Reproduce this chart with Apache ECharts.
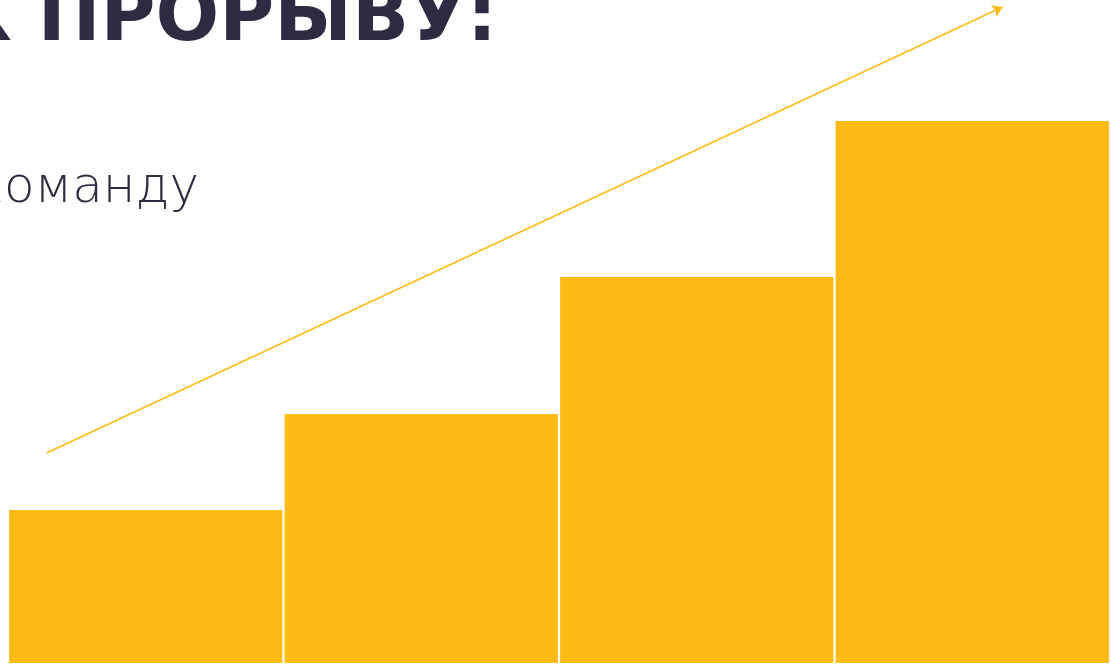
<!DOCTYPE html>
<html><head><meta charset="utf-8">
<script src="https://cdn.jsdelivr.net/npm/echarts@6/dist/echarts.min.js"></script>
<style>html,body{margin:0;padding:0;background:#fff}#c{width:1111px;height:664px}</style>
</head><body><div id="c"></div>
<script>
const categories = ['1', '2', '3', '4'];
const barValues = [153, 249, 386, 542];
const trendStart = [0.14, 210];
const trendEnd = [3.61, 656];
const titleText = 'К ПРОРЫВУ:';
const subtitleText = 'команду';

const chart = echarts.init(document.getElementById('c'));
chart.setOption({
  animation: false,
  backgroundColor: '#ffffff',
  grid: { left: 8, right: 1, top: 3, bottom: 1 },
  xAxis: [
    { type: 'category', data: categories, show: false },
    { type: 'value', min: 0, max: 4, show: false }
  ],
  yAxis: { type: 'value', min: 0, max: 660, show: false },
  graphic: [
    { type: 'text', right: 1111 - 497, top: -17, style: { text: titleText, font: 'bold 75px "DejaVu Sans"', fill: '#2f2b42', textAlign: 'right' } },
    { type: 'text', right: 1111 - 199, top: 164, style: { text: subtitleText, font: '200 50px "DejaVu Sans"', fill: '#2f2b42', textAlign: 'right' } }
  ],
  series: [
    {
      type: 'bar', data: barValues, barWidth: '99.2%',
      itemStyle: { color: '#fdbb14' }, silent: true
    },
    {
      type: 'lines', coordinateSystem: 'cartesian2d', xAxisIndex: 1, yAxisIndex: 0,
      symbol: ['none', 'arrow'], symbolSize: 10,
      lineStyle: { color: '#fdbb14', width: 1.6, opacity: 1 },
      data: [{ coords: [trendStart, trendEnd] }], silent: true
    }
  ]
});
</script></body></html>
